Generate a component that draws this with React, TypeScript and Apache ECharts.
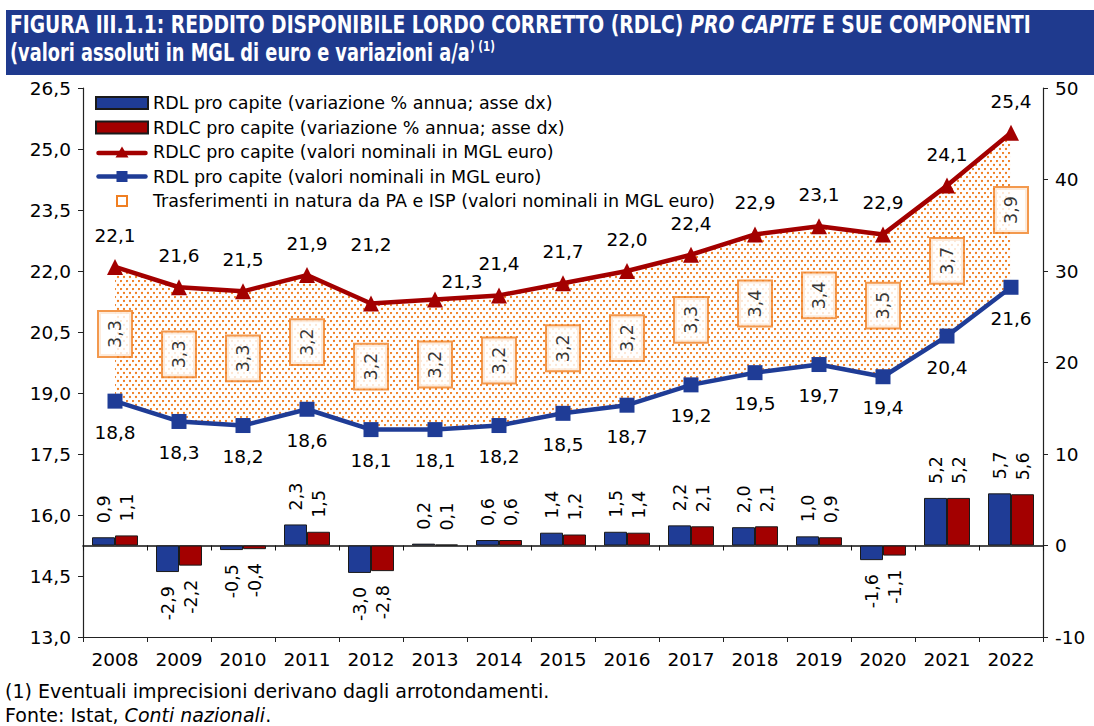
import React, { useEffect, useRef } from 'react';
import * as echarts from 'echarts';

// ---- data ----
const categories = ['2008', '2009', '2010', '2011', '2012', '2013', '2014', '2015', '2016', '2017', '2018', '2019', '2020', '2021', '2022'];
const rdlVar = [0.9, -2.9, -0.5, 2.3, -3.0, 0.2, 0.6, 1.4, 1.5, 2.2, 2.0, 1.0, -1.6, 5.2, 5.7];
const rdlcVar = [1.1, -2.2, -0.4, 1.5, -2.8, 0.1, 0.6, 1.2, 1.4, 2.1, 2.1, 0.9, -1.1, 5.2, 5.6];
const rdlcLevel = [22.1, 21.6, 21.5, 21.9, 21.2, 21.3, 21.4, 21.7, 22.0, 22.4, 22.9, 23.1, 22.9, 24.1, 25.4];
const rdlLevel = [18.8, 18.3, 18.2, 18.6, 18.1, 18.1, 18.2, 18.5, 18.7, 19.2, 19.5, 19.7, 19.4, 20.4, 21.6];
const transfers = [3.3, 3.3, 3.3, 3.2, 3.2, 3.2, 3.2, 3.2, 3.2, 3.3, 3.4, 3.4, 3.5, 3.7, 3.9];

const leftTicks = { min: 13, max: 26.5, interval: 1.5 };
const rightTicks = { min: -10, max: 50, interval: 10 };

const N_BAR_RDL = 'RDL pro capite (variazione % annua; asse dx)';
const N_BAR_RDLC = 'RDLC pro capite (variazione % annua; asse dx)';
const N_LINE_RDLC = 'RDLC pro capite (valori nominali in MGL euro)';
const N_LINE_RDL = 'RDL pro capite (valori nominali in MGL euro)';
const N_TRANSF = 'Trasferimenti in natura da PA e ISP (valori nominali in MGL euro)';

// ---- style ----
const BLUE = '#1F3C96';
const RED = '#A30000';
const ORANGE = '#F07F22';
const TITLE_BG = '#1F3A8E';
const FONT = "'DejaVu Sans', sans-serif";
const TITLE_FONT = "'DejaVu Sans', sans-serif";

const fmt = (v: number) => v.toFixed(1).replace('.', ',');

const svgIcon = (inner: string) =>
  'image://data:image/svg+xml;utf8,' +
  encodeURIComponent(`<svg xmlns="http://www.w3.org/2000/svg" width="52" height="12" viewBox="0 0 52 12">${inner}</svg>`);

export default function App() {
  const ref = useRef<HTMLDivElement>(null);

  useEffect(() => {
    document.body.style.margin = '0';
    const chart = echarts.init(ref.current!, null, { renderer: 'svg' });

    // dotted pattern
    const cv = document.createElement('canvas');
    cv.width = 6;
    cv.height = 8;
    const ctx = cv.getContext('2d')!;
    ctx.fillStyle = '#ffffff';
    ctx.fillRect(0, 0, 6, 8);
    ctx.fillStyle = ORANGE;
    ctx.beginPath();
    ctx.arc(1, 1, 1.15, 0, Math.PI * 2);
    ctx.arc(4, 5, 1.15, 0, Math.PI * 2);
    ctx.fill();
    const patternUrl = cv.toDataURL();

    const squareIcon = svgIcon(
      `<rect x="21" y="1" width="10" height="10" fill="white" stroke="${ORANGE}" stroke-width="2"/>`
    );
    const triIcon = svgIcon(
      `<line x1="2.5" y1="7" x2="49.5" y2="7" stroke="${RED}" stroke-width="4.5" stroke-linecap="round"/><polygon points="26,0.5 32.5,11.5 19.5,11.5" fill="${RED}"/>`
    );
    const sqIcon = svgIcon(
      `<line x1="2.5" y1="6" x2="49.5" y2="6" stroke="${BLUE}" stroke-width="4.5" stroke-linecap="round"/><rect x="20.5" y="0.5" width="11" height="11" fill="${BLUE}"/>`
    );

    const barData = (arr: number[]) =>
      arr.map((v) => ({
        value: v,
        label: {
          position: v >= 0 ? 'top' : 'bottom',
          align: v >= 0 ? 'left' : 'right',
          verticalAlign: 'middle',
        },
      }));

    const rdlcLineData = rdlcLevel.map((v, i) => {
      if (i === 4) return { value: v, label: { offset: [0, -28] } };
      if (i === 5) return { value: v, label: { offset: [27, 14] } };
      return v;
    });

    const diff = rdlcLevel.map((v, i) => +(v - rdlLevel[i]).toFixed(2));
    const mids = rdlcLevel.map((v, i) => (v + rdlLevel[i]) / 2);

    const titleRich = (size: number) => ({
      b: { fontFamily: TITLE_FONT, fontWeight: 'bold', fontSize: size, fill: '#fff', color: '#fff' },
      bi: { fontFamily: TITLE_FONT, fontWeight: 'bold', fontStyle: 'italic', fontSize: size, fill: '#fff', color: '#fff' },
      s: { fontFamily: TITLE_FONT, fontWeight: 'bold', fontSize: 11, fill: '#fff', color: '#fff', verticalAlign: 'top' },
    });

    const option: any = {
      animation: false,
      backgroundColor: '#ffffff',
      textStyle: { fontFamily: FONT },
      graphic: [
        {
          type: 'rect',
          shape: { x: 6, y: 10, width: 1088, height: 65 },
          style: { fill: TITLE_BG },
          silent: true,
        },
        {
          type: 'text',
          x: 10,
          y: 25,
          scaleX: 0.985,
          scaleY: 1.27,
          style: {
            text: '{b|FIGURA III.1.1: REDDITO DISPONIBILE LORDO CORRETTO (RDLC) }{bi|PRO CAPITE}{b| E SUE COMPONENTI}',
            verticalAlign: 'middle',
            fill: '#fff',
            rich: titleRich(19),
          },
          silent: true,
        },
        {
          type: 'text',
          x: 10,
          y: 52,
          scaleX: 0.935,
          scaleY: 1.27,
          style: {
            text: '{b|(valori assoluti in MGL di euro e variazioni a/a}{s|) (1)}',
            verticalAlign: 'middle',
            fill: '#fff',
            rich: titleRich(19),
          },
          silent: true,
        },
        {
          type: 'text',
          x: 5,
          y: 691,
          style: {
            text: '(1) Eventuali imprecisioni derivano dagli arrotondamenti.',
            fontFamily: FONT,
            fontSize: 19,
            fill: '#000',
            verticalAlign: 'middle',
          },
          silent: true,
        },
        {
          type: 'text',
          x: 5,
          y: 715,
          style: {
            text: '{n|Fonte: Istat, }{i|Conti nazionali}{n|.}',
            verticalAlign: 'middle',
            fill: '#000',
            rich: {
              n: { fontFamily: FONT, fontSize: 19, fill: '#000', color: '#000' },
              i: { fontFamily: FONT, fontSize: 19, fontStyle: 'italic', fill: '#000', color: '#000' },
            },
          },
          silent: true,
        },
      ],
      grid: { left: 83, right: 51, top: 88, bottom: 89, containLabel: false },
      legend: {
        orient: 'vertical',
        left: 90,
        top: 88,
        itemWidth: 52,
        itemHeight: 12,
        itemGap: 4.5,
        selectedMode: false,
        textStyle: { fontFamily: FONT, fontSize: 17.5, color: '#000', lineHeight: 20 },
        data: [
          { name: N_BAR_RDL, icon: 'rect' },
          { name: N_BAR_RDLC, icon: 'rect' },
          { name: N_LINE_RDLC, icon: triIcon },
          { name: N_LINE_RDL, icon: sqIcon },
          { name: N_TRANSF, icon: squareIcon },
        ],
      },
      xAxis: [
        {
          type: 'category',
          data: categories,
          position: 'bottom',
          boundaryGap: true,
          axisLine: { onZero: false, lineStyle: { color: '#222', width: 1.2 } },
          axisTick: { show: true, length: 5, lineStyle: { color: '#222' } },
          axisLabel: { fontFamily: FONT, fontSize: 18.5, color: '#000', margin: 13 },
          splitLine: { show: false },
        },
        {
          type: 'category',
          data: categories,
          position: 'bottom',
          boundaryGap: true,
          axisLine: { onZero: true, onZeroAxisIndex: 1, lineStyle: { color: '#111', width: 1.6 } },
          axisTick: { show: true, length: 5, lineStyle: { color: '#111' } },
          axisLabel: { show: false },
          splitLine: { show: false },
        },
      ],
      yAxis: [
        {
          type: 'value',
          position: 'left',
          ...leftTicks,
          axisLine: { show: true, lineStyle: { color: '#222', width: 1.2 } },
          axisTick: { show: true, length: 5, lineStyle: { color: '#222' } },
          axisLabel: { fontFamily: FONT, fontSize: 18.5, color: '#000', margin: 12, formatter: (v: number) => fmt(v) },
          splitLine: { show: false },
        },
        {
          type: 'value',
          position: 'right',
          ...rightTicks,
          axisLine: { show: true, lineStyle: { color: '#222', width: 1.2 } },
          axisTick: { show: true, length: 5, lineStyle: { color: '#222' } },
          axisLabel: { fontFamily: FONT, fontSize: 18.5, color: '#000', margin: 12 },
          splitLine: { show: false },
        },
      ],
      series: [
        {
          name: N_BAR_RDL,
          type: 'bar',
          yAxisIndex: 1,
          barWidth: 23,
          barGap: '0%',
          data: barData(rdlVar),
          itemStyle: { color: BLUE, borderColor: '#1a1a1a', borderWidth: 1 },
          label: {
            show: true,
            rotate: 90,
            distance: 14,
            fontFamily: FONT,
            fontSize: 17.5,
            color: '#000',
            formatter: (p: any) => fmt(p.value),
          },
          z: 2,
        },
        {
          name: N_BAR_RDLC,
          type: 'bar',
          yAxisIndex: 1,
          barWidth: 23,
          barGap: '0%',
          data: barData(rdlcVar),
          itemStyle: { color: RED, borderColor: '#1a1a1a', borderWidth: 1 },
          label: {
            show: true,
            rotate: 90,
            distance: 14,
            fontFamily: FONT,
            fontSize: 17.5,
            color: '#000',
            formatter: (p: any) => fmt(p.value),
          },
          z: 2,
        },
        {
          name: 'base',
          type: 'line',
          yAxisIndex: 0,
          stack: 'band',
          data: rdlLevel,
          symbol: 'none',
          lineStyle: { width: 0, opacity: 0 },
          silent: true,
          z: 1,
        },
        {
          name: N_TRANSF,
          type: 'line',
          yAxisIndex: 0,
          stack: 'band',
          data: diff,
          symbol: 'none',
          lineStyle: { width: 0, opacity: 0 },
          itemStyle: { color: ORANGE },
          areaStyle: {
            color: { image: patternUrl, repeat: 'repeat', imageWidth: 6, imageHeight: 8 },
            opacity: 1,
          },
          silent: true,
          z: 1,
        },
        {
          name: N_LINE_RDLC,
          type: 'line',
          yAxisIndex: 0,
          data: rdlcLineData,
          symbol: 'triangle',
          symbolSize: 16,
          itemStyle: { color: RED },
          lineStyle: { color: RED, width: 4.5 },
          label: {
            show: true,
            position: 'top',
            distance: 14,
            fontFamily: FONT,
            fontSize: 18.5,
            color: '#000',
            formatter: (p: any) => fmt(p.value),
          },
          z: 4,
        },
        {
          name: N_LINE_RDL,
          type: 'line',
          yAxisIndex: 0,
          data: rdlLevel,
          symbol: 'rect',
          symbolSize: 15,
          itemStyle: { color: BLUE },
          lineStyle: { color: BLUE, width: 4.5 },
          label: {
            show: true,
            position: 'bottom',
            distance: 14,
            fontFamily: FONT,
            fontSize: 18.5,
            color: '#000',
            formatter: (p: any) => fmt(p.value),
          },
          z: 4,
        },
        {
          name: 'boxes',
          type: 'scatter',
          yAxisIndex: 0,
          data: mids,
          symbolSize: 1,
          itemStyle: { color: 'rgba(0,0,0,0)' },
          label: {
            show: true,
            position: 'inside',
            rotate: 90,
            formatter: (p: any) => fmt(transfers[p.dataIndex]),
            backgroundColor: '#ffffff',
            borderColor: ORANGE,
            borderWidth: 2,
            padding: [7, 8],
            fontFamily: FONT,
            fontSize: 17.5,
            color: '#000',
          },
          silent: true,
          z: 5,
        },
      ],
    };

    chart.setOption(option);
    return () => chart.dispose();
  }, []);

  return (
    <div
      ref={ref}
      style={{ position: 'absolute', left: 0, top: 0, width: 1094, height: 726 }}
    />
  );
}
